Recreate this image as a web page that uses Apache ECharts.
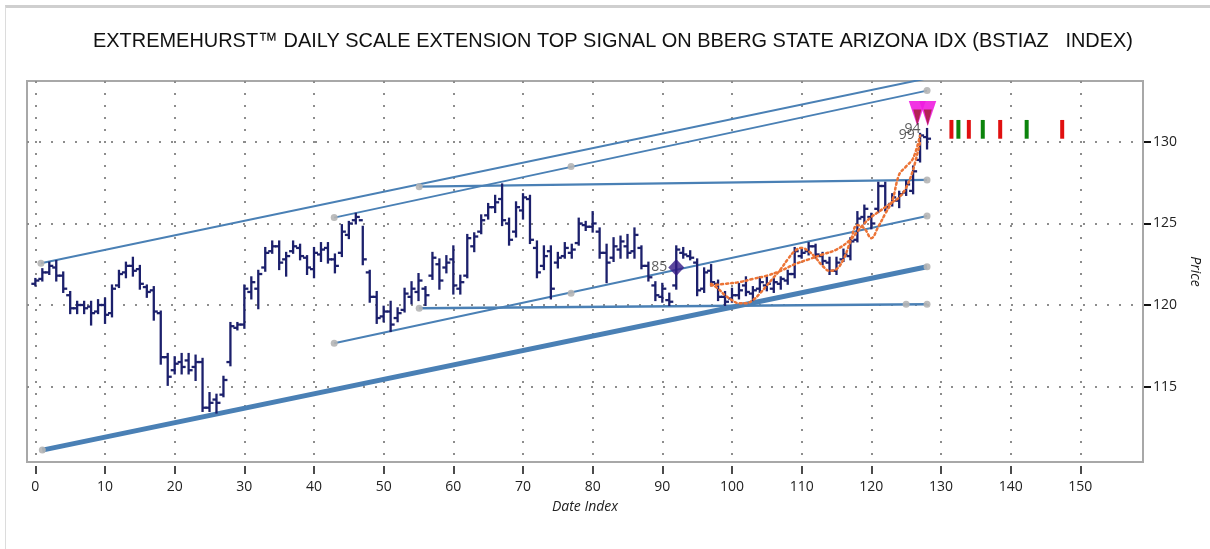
<!DOCTYPE html>
<html>
<head>
<meta charset="utf-8">
<script src="https://cdn.jsdelivr.net/npm/echarts@6/dist/echarts.min.js"></script>
<style>
html,body{margin:0;padding:0;background:#fff;}
#frame{position:absolute;left:5px;top:5px;width:1205px;height:544px;border-top:3px solid #cfcfcf;border-left:1px solid #dcdcdc;box-sizing:border-box;}
#chart{position:absolute;left:0;top:0;width:1210px;height:549px;}
</style>
</head>
<body>
<div id="frame"></div>
<div id="chart"></div>
<script>
// ---------- DATA ----------
const titleText = 'EXTREMEHURST\u2122 DAILY SCALE EXTENSION TOP SIGNAL ON BBERG STATE ARIZONA IDX (BSTIAZ   INDEX)';
const xTicks = [0,10,20,30,40,50,60,70,80,90,100,110,120,130,140,150];
const yTicks = [115,120,125,130];

const highs = [121.6,122.2,122.6,122.7,122.0,120.8,120.2,120.2,120.2,120.3,120.4,121.2,122.1,122.6,122.9,122.4,121.2,121.1,119.6,117.0,
116.8,117.0,117.0,116.9,116.7,114.6,114.5,115.6,118.9,118.9,121.2,121.7,122.1,123.5,123.9,123.9,123.2,123.9,123.7,123.0,
123.5,123.8,123.8,123.1,124.9,125.1,125.6,124.8,122.1,120.8,119.9,120.2,119.8,121.0,121.4,121.9,121.1,123.2,122.8,123.0,
123.6,121.8,124.3,124.4,125.5,126.2,126.7,127.4,125.3,126.3,126.8,126.7,123.9,123.6,123.6,123.2,123.8,123.7,125.3,125.1,
125.7,124.7,123.7,124.1,124.2,124.3,124.7,123.6,122.6,121.4,121.3,120.7,123.6,123.5,123.3,122.8,122.25,122.45,121.5,120.8,
121.0,121.3,121.7,121.1,121.7,121.7,121.6,121.7,122.1,123.5,123.5,123.8,123.7,123.2,122.9,122.9,123.4,124.1,125.7,126.1,
125.6,127.5,127.5,126.8,126.95,127.6,128.5,130.5,130.8];
const lows = [121.2,121.5,121.9,121.5,120.8,119.5,119.5,119.5,118.8,119.5,118.9,119.3,121.1,121.7,121.8,121.0,120.5,119.1,116.4,115.1,
115.8,115.8,115.8,115.4,113.5,113.5,113.4,114.4,116.3,118.5,118.6,120.4,119.8,122.1,123.2,122.2,121.8,123.2,122.8,121.9,
121.7,122.7,122.6,122.0,123.0,124.1,125.0,122.5,120.2,118.9,119.0,118.4,119.0,119.6,120.1,120.3,120.0,121.6,121.0,122.0,
120.7,120.7,121.7,123.3,124.4,125.3,125.7,124.9,123.7,124.2,125.3,123.8,121.7,122.2,120.4,122.3,122.9,122.9,123.7,124.6,
124.5,122.9,121.4,122.7,122.9,122.9,122.9,122.25,121.5,120.3,120.2,120.0,121.0,122.9,122.8,120.6,120.8,121.2,120.3,120.0,
120.2,120.4,120.6,120.3,120.8,120.9,120.8,121.0,121.3,121.7,122.9,123.1,122.9,122.5,121.9,121.9,122.7,122.8,123.9,125.0,
124.7,125.7,125.8,126.1,126.0,126.75,126.85,128.8,129.6];
const opens = [121.3,121.6,122.0,122.3,121.8,120.6,119.8,120.0,119.9,119.6,120.0,119.5,121.2,122.0,122.4,122.2,121.1,120.9,119.5,116.8,
116.0,116.5,116.6,116.2,116.5,113.7,114.2,114.5,116.5,118.6,118.8,120.8,121.0,122.3,123.3,123.6,122.8,123.3,123.5,122.9,
122.2,123.1,123.5,122.8,123.2,124.3,125.2,125.2,122.0,120.5,119.3,119.6,119.2,119.7,120.5,120.8,121.0,121.8,122.5,122.3,
122.8,121.0,121.8,123.6,124.5,125.5,126.0,126.5,125.0,124.5,125.8,126.5,123.5,122.4,123.3,122.6,123.0,123.2,123.8,124.9,
124.8,124.5,123.2,122.9,123.4,123.6,123.3,123.5,122.4,121.2,120.5,120.3,121.2,123.2,123.0,122.6,121.0,122.1,121.3,120.5,
120.4,120.6,121.2,120.7,121.0,121.2,121.0,121.3,121.5,121.9,123.0,123.3,123.6,123.0,122.6,122.1,122.8,123.0,124.0,125.4,
125.4,125.9,127.3,126.2,126.4,126.9,127.0,128.9,130.3];
const closes = [121.5,122.0,122.4,121.8,121.0,119.8,120.0,119.8,119.5,120.0,119.4,121.0,121.9,122.4,122.1,121.3,120.8,119.6,116.8,115.6,
116.4,116.2,116.0,116.5,113.7,114.0,114.0,115.4,118.7,118.8,121.0,121.4,121.9,123.2,123.6,122.6,123.0,123.6,123.0,122.3,
123.2,123.4,122.8,122.4,124.5,125.0,125.4,122.8,120.5,119.2,119.6,118.8,119.5,120.7,121.0,121.5,120.6,122.9,121.5,122.6,
121.2,121.4,124.1,124.2,125.2,126.0,126.3,125.2,124.0,126.0,126.6,124.0,122.0,123.0,121.0,122.9,123.5,123.4,125.0,124.8,
125.0,123.2,122.6,123.6,123.9,123.2,124.3,122.4,121.7,120.6,121.0,120.2,123.4,123.1,122.9,120.9,122.0,121.4,120.5,120.2,
120.6,120.9,120.8,120.9,121.4,121.3,121.4,121.6,121.9,123.3,123.2,123.6,123.1,122.7,122.1,122.6,123.1,123.9,125.3,125.9,
125.0,127.3,126.0,126.6,126.8,127.4,128.2,130.4,130.2];

// trend / channel lines (endpoints in data units)
const topLine      = [[0.8,122.56],[128,133.9]];
const upperLine    = [[42.9,125.36],[128,133.15]];
const resistLine   = [[55.1,127.26],[128,127.67]];
const midLine      = [[42.9,117.65],[128,125.46]];
const supportLine  = [[55.1,119.8],[128,120.04]];
const baseLine     = [[1.0,111.1],[128,122.35]];
const anchorDots   = [[0.8,122.56],[128,133.15],[42.9,125.36],[76.9,128.5],[55.1,127.26],[128,127.67],
                      [42.9,117.65],[76.9,120.72],[128,125.46],[55.1,119.8],[125,120.04],[128,120.04],[1.0,111.1],[128,122.35]];

// orange dotted projections
const wavyX = [97,98,99,100,101,102,103,104,105,106,107,108,109,110,111,112,113,114,115,116,117,118,119,120,121,122,123,124,125,126,127];
const wavyY = [121.3,121.0,120.6,120.3,120.1,120.1,120.3,120.7,121.2,121.7,122.2,122.8,123.3,123.5,123.3,122.9,122.4,122.1,122.2,122.8,123.9,124.9,124.7,124.1,124.8,125.6,126.4,128.0,128.5,129.0,130.4];
const smoothX = [97,99,101,103,105,107,109,111,113,115,117,118,119,120,121,122,123,124,125,126,127];
const smoothY = [121.2,121.3,121.4,121.6,121.8,122.1,122.5,122.8,123.1,123.4,124.0,124.5,125.0,125.4,125.7,126.0,126.3,126.6,127.2,128.3,130.0];

// markers
const diamondPt = [92,122.3]; const diamondLabel = '85';
const topArrowsX = [126.6,128.1]; const topArrowY = 131.75;
const innerArrowY = 131.5;
const countLabels = [{x:125.1,y:130.43,t:'99'},{x:125.9,y:130.8,t:'94'}];

// future signal ticks
const sigX     = [131.5,132.5,134.0,136.0,138.5,142.3,147.4];
const sigColor = ['red','green','red','green','red','green','red'];
const sigLow = 130.2, sigHigh = 131.35;

// ---------- CHART ----------
const chart = echarts.init(document.getElementById('chart'), null, {renderer:'canvas'});
const barColor = '#1c206c';
const lineColor = '#4a80b5';
const labelFont = "'Open Sans','Noto Sans',sans-serif";
const titleFont = "21px 'Liberation Sans', Arial, sans-serif";

// measure title to emulate the condensed face of the original
const mctx = document.createElement('canvas').getContext('2d');
mctx.font = titleFont;
const titleW = mctx.measureText(titleText).width;
const titleScale = 1040 / titleW;

const ohlc = highs.map((h,i)=>[i, opens[i], closes[i], lows[i], h]);

function lineSeries(pts, width){
  return {type:'line', data:pts, symbol:'none', silent:true, z:2,
    lineStyle:{color:lineColor, width:width}, animation:false};
}

const option = {
  animation:false,
  graphic:[{type:'text', x:613, y:41, scaleX:titleScale, scaleY:1, silent:true,
    style:{text:titleText, font:titleFont, fill:'#111', align:'center', verticalAlign:'middle'}}],
  grid:{left:27, right:67, top:81, bottom:87, show:true, borderColor:'#a8a8a8', borderWidth:2, backgroundColor:'transparent'},
  xAxis:{type:'value', min:-1.2, max:159, offset:4,
    name:'Date Index', nameLocation:'middle', nameGap:34,
    nameTextStyle:{fontFamily:labelFont, fontStyle:'italic', fontSize:14, color:'#222'},
    axisLine:{show:false, onZero:false},
    axisTick:{show:true, length:8, lineStyle:{color:'#111', width:1.5}, customValues:xTicks},
    axisLabel:{fontFamily:labelFont, fontSize:14, color:'#222', margin:14, customValues:xTicks},
    splitLine:{show:true, lineStyle:{color:'#8d8d8d', width:2, type:[2,10]}}},
  yAxis:{type:'value', min:110.37, max:133.74, position:'right', offset:1,
    name:'Price', nameLocation:'middle', nameRotate:-90, nameGap:32,
    nameTextStyle:{fontFamily:labelFont, fontStyle:'italic', fontSize:14, color:'#222'},
    axisLine:{show:false, onZero:false},
    axisTick:{show:true, length:7, inside:false, lineStyle:{color:'#111', width:2}, customValues:yTicks},
    axisLabel:{fontFamily:labelFont, fontSize:14, color:'#222', margin:9, customValues:yTicks},
    splitLine:{show:true, lineStyle:{color:'#8d8d8d', width:2, type:[2,10]}}},
  series:[
    lineSeries(topLine,2), lineSeries(upperLine,2), lineSeries(resistLine,2.2),
    lineSeries(midLine,2), lineSeries(supportLine,2.5), lineSeries(baseLine,5),
    {type:'scatter', data:anchorDots, symbol:'circle', symbolSize:7, z:3, silent:true,
      itemStyle:{color:'#b5b5b5', opacity:0.9}},
    {type:'custom', data:ohlc, z:5, silent:true,
      renderItem:function(params, api){
        const x = api.value(0);
        const o = api.coord([x, api.value(1)]);
        const c = api.coord([x, api.value(2)]);
        const l = api.coord([x, api.value(3)]);
        const h = api.coord([x, api.value(4)]);
        const st = {stroke:barColor, lineWidth:2.3, fill:null};
        return {type:'group', children:[
          {type:'line', shape:{x1:h[0], y1:h[1]-1, x2:l[0], y2:l[1]+1}, style:st},
          {type:'line', shape:{x1:o[0]-4, y1:o[1], x2:o[0], y2:o[1]}, style:st},
          {type:'line', shape:{x1:c[0], y1:c[1], x2:c[0]+4, y2:c[1]}, style:st}
        ]};
      }},
    {type:'line', data:wavyX.map((x,i)=>[x,wavyY[i]]), symbol:'none', smooth:0.4, z:6, silent:true,
      lineStyle:{color:'#ec7436', width:2.5, type:[2,3], cap:'round'}},
    {type:'line', data:smoothX.map((x,i)=>[x,smoothY[i]]), symbol:'none', smooth:0.4, z:6, silent:true,
      lineStyle:{color:'#ec7436', width:2.5, type:[2,3], cap:'round'}},
    {type:'scatter', data:[diamondPt], symbol:'diamond', symbolSize:[16,17], z:8, silent:true,
      itemStyle:{color:'#341a86'},
      label:{show:true, position:'left', distance:1, formatter:diamondLabel, fontFamily:labelFont, fontSize:14, color:'#333'}},
    {type:'scatter', data:topArrowsX.map(x=>[x,topArrowY]), symbol:'triangle', symbolRotate:180, symbolSize:[17,25], z:9, silent:true,
      itemStyle:{color:'#f01ee0', opacity:0.9}},
    {type:'scatter', data:topArrowsX.map(x=>[x,innerArrowY]), symbol:'triangle', symbolRotate:180, symbolSize:[8,16], z:10, silent:true,
      itemStyle:{color:'#a8203c', opacity:0.85}},
    {type:'scatter', data:countLabels.map(d=>[d.x,d.y,d.t]), symbolSize:0, z:11, silent:true,
      label:{show:true, position:'inside', formatter:p=>p.value[2], fontFamily:labelFont, fontSize:14, color:'#333'}},
    {type:'custom', data:sigX.map((x,i)=>[x,sigLow,sigHigh,i]), z:7, silent:true,
      renderItem:function(params, api){
        const x = api.value(0);
        const a = api.coord([x, api.value(1)]);
        const b = api.coord([x, api.value(2)]);
        const col = sigColor[api.value(3)] === 'red' ? '#e01010' : '#0c840c';
        return {type:'rect', shape:{x:a[0]-2, y:b[1], width:4, height:a[1]-b[1]}, style:{fill:col}};
      }}
  ]
};
chart.setOption(option);
</script>
</body>
</html>
